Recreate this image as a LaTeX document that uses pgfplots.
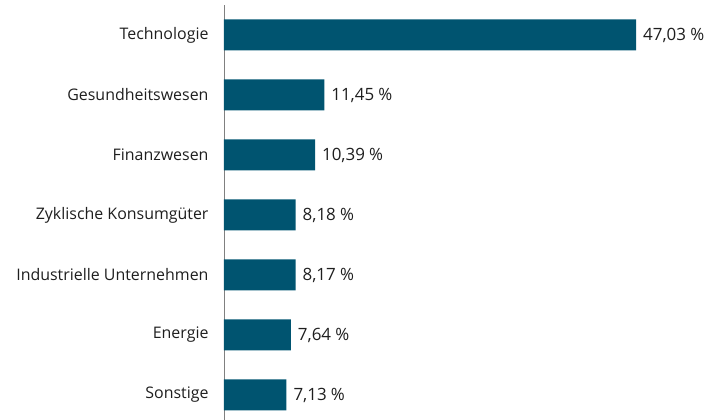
\documentclass[border=0pt]{standalone}
\usepackage{pgfplots}
\pgfplotsset{compat=1.18}
\usepackage{fontspec}
\setmainfont{Open Sans}
\definecolor{barc}{RGB}{0,84,112}
\definecolor{axc}{RGB}{128,128,128}
\definecolor{txt}{RGB}{30,30,30}
\begin{document}
\begin{tikzpicture}
\useasboundingbox (-224bp,0) rectangle (485bp,420bp);
\begin{axis}[
  at={(0,0)}, anchor=south west,
  scale only axis,
  width=482bp, height=415bp,
  xmin=0, xmax=55,
  ymin=-0.4167, ymax=6.5,
  xbar, bar width=31bp,
  axis x line=none,
  axis y line*=left,
  y axis line style={draw=axc, line width=0.9pt, -},
  ytick={0,1,2,3,4,5,6},
  yticklabels={Sonstige, Energie, Industrielle Unternehmen, Zyklische Konsumgüter, Finanzwesen, Gesundheitswesen, Technologie},
  major tick length=0pt,
  yticklabel style={font=\fontsize{16}{18}\selectfont, text=txt, xshift=-12bp},
  point meta=x,
  nodes near coords={\pgfmathprintnumber[fixed, fixed zerofill, precision=2, use comma, assume math mode=true]{\pgfplotspointmeta}\hspace{0.25em}\%},
  every node near coord/.append style={font=\fontsize{17}{19}\selectfont, text=txt, anchor=west, xshift=3.5bp},
  clip=false,
]
\addplot[fill=barc, draw=none] coordinates {
  (7.13,0) (7.64,1) (8.17,2) (8.18,3) (10.39,4) (11.45,5) (47.03,6)
};
\end{axis}
\end{tikzpicture}
\end{document}
